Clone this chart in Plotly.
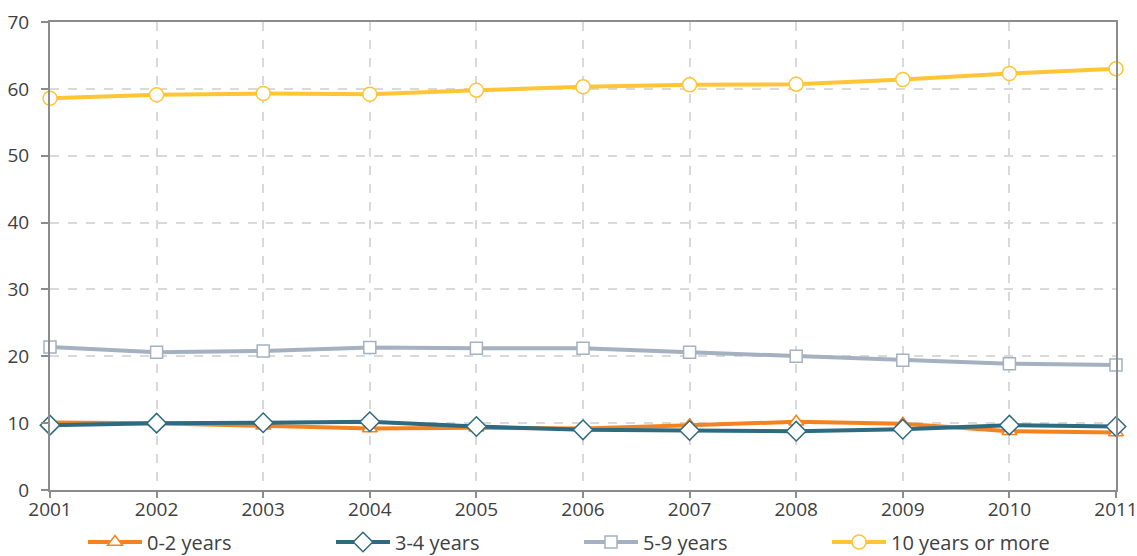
import plotly.graph_objects as go

years = list(range(2001, 2012))
y_0_2 = [10.1, 10.0, 9.6, 9.2, 9.3, 9.2, 9.7, 10.2, 9.9, 8.8, 8.6]
y_3_4 = [9.7, 10.0, 10.05, 10.2, 9.5, 9.0, 8.9, 8.8, 9.1, 9.7, 9.5]
y_5_9 = [21.4, 20.6, 20.8, 21.3, 21.2, 21.2, 20.6, 20.0, 19.4, 18.9, 18.7]
y_10p = [58.6, 59.1, 59.3, 59.2, 59.8, 60.3, 60.6, 60.7, 61.4, 62.3, 63.0]

series = [
    ("0-2 years", y_0_2, "#F58220", "triangle-up", 13),
    ("3-4 years", y_3_4, "#2E6A80", "diamond", 15),
    ("5-9 years", y_5_9, "#A4B1C0", "square", 12),
    ("10 years or more", y_10p, "#FFC535", "circle", 14),
]

fig = go.Figure()
for name, vals, color, symbol, size in series:
    fig.add_trace(go.Scatter(
        x=years, y=vals, name=name, mode="lines+markers",
        line=dict(color=color, width=4),
        marker=dict(symbol=symbol, size=size, color="white",
                    line=dict(color=color, width=1.5)),
        cliponaxis=False,
    ))

tick_font = dict(family="Open Sans", size=19, color="#404040")
legend_font = dict(family="Open Sans", size=20, color="#404040")
frame = "#8C8C8C"
grid = "#D9D9D9"

fig.update_layout(
    width=1137, height=556,
    margin=dict(l=50, r=21, t=22, b=66, autoexpand=False),
    paper_bgcolor="white", plot_bgcolor="white",
    font=tick_font,
    showlegend=True,
    legend=dict(orientation="h", xref="container", yref="container",
                x=83 / 1137, xanchor="left", y=14 / 556, yanchor="middle",
                font=legend_font, itemwidth=54,
                entrywidth=179, entrywidthmode="pixels",
                traceorder="normal", bgcolor="rgba(0,0,0,0)"),
)
fig.update_xaxes(
    range=[2001, 2011], tickvals=years, ticktext=[str(y) for y in years],
    showgrid=True, gridcolor=grid, griddash="dash", gridwidth=2,
    showline=True, linecolor=frame, linewidth=2, mirror=True,
    ticks="outside", ticklen=6, tickcolor=frame, tickwidth=2,
    zeroline=False, tickfont=tick_font, ticklabeloverflow="allow",
    ticklabelstandoff=-5,
)
fig.update_yaxes(
    range=[0, 70], dtick=10,
    showgrid=True, gridcolor=grid, griddash="dash", gridwidth=2,
    showline=True, linecolor=frame, linewidth=2, mirror=True,
    ticks="outside", ticklen=7, tickcolor=frame, tickwidth=2,
    zeroline=False, tickfont=tick_font, ticklabeloverflow="allow",
    ticklabelstandoff=8,
)

fig.write_html("out.html")
